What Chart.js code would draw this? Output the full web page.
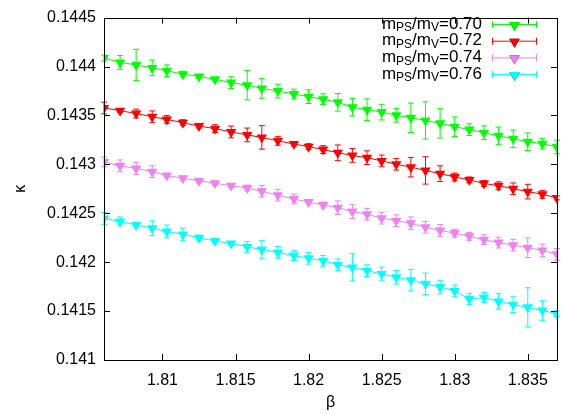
<!DOCTYPE html>
<html>
<head>
<meta charset="utf-8">
<script src="https://cdn.jsdelivr.net/npm/chart.js@4.4.1/dist/chart.umd.min.js"></script>
<style>
  html, body { margin: 0; padding: 0; background: #fff; }
  #wrap { width: 565px; height: 414px; }
</style>
</head>
<body>
<div id="wrap"><canvas id="chart"></canvas></div>
<script>
// beta values shared by all four mass ratios
const beta = [
  1.8060, 1.8071, 1.8082, 1.8093, 1.8103, 1.8114, 1.8125, 1.8136, 1.8147, 1.8158,
  1.8168, 1.8179, 1.8190, 1.8200, 1.8210, 1.8220, 1.8230, 1.8240, 1.8250, 1.8260,
  1.8270, 1.8280, 1.8290, 1.8300, 1.8310, 1.8320, 1.8330, 1.8340, 1.8350, 1.8360,
  1.8370,
];

// kappa_c and errors for each mPS/mV
const kappa070 = [
  0.144086, 0.144042, 0.144016, 0.143986, 0.143956, 0.143922, 0.143899, 0.143869, 0.143836, 0.143809,
  0.143776, 0.143749, 0.143719, 0.143692, 0.143666, 0.143634, 0.143584, 0.143559, 0.143534, 0.143502,
  0.143476, 0.143449, 0.143419, 0.143385, 0.143355, 0.143323, 0.143291, 0.143261, 0.143231, 0.143211,
  0.143178,
];
const err070 = [
  0.00003, 0.00007, 0.00016, 0.00008, 0.00006, 0.00003, 0.00002, 0.00002, 0.00006, 0.00015,
  0.00010, 0.00007, 0.00005, 0.00007, 0.000055, 0.00009, 0.00009, 0.00011, 0.00008, 0.00007,
  0.00015, 0.00019, 0.00015, 0.00010, 0.00006, 0.00007, 0.00009, 0.00009, 0.00009, 0.000055,
  0.00007,
];

const kappa072 = [
  0.143576, 0.143549, 0.143519, 0.143486, 0.143459, 0.143426, 0.143391, 0.143365, 0.143331, 0.143301,
  0.143275, 0.143241, 0.143208, 0.143181, 0.143151, 0.143118, 0.143091, 0.143068, 0.143035, 0.143001,
  0.142971, 0.142938, 0.142905, 0.142871, 0.142841, 0.142805, 0.142781, 0.142750, 0.142721, 0.142694,
  0.142657,
];
const err072 = [
  0.00006, 0.00002, 0.000045, 0.00006, 0.00004, 0.00003, 0.00002, 0.00004, 0.00006, 0.00007,
  0.00012, 0.000045, 0.00002, 0.00003, 0.00004, 0.00008, 0.00007, 0.00007, 0.00006, 0.00006,
  0.00010, 0.00014, 0.00008, 0.00004, 0.00003, 0.00003, 0.00004, 0.00006, 0.000075, 0.00004,
  0.00002,
];

const kappa074 = [
  0.143025, 0.142985, 0.142958, 0.142925, 0.142885, 0.142858, 0.142831, 0.142808, 0.142781, 0.142758,
  0.142725, 0.142684, 0.142647, 0.142614, 0.142584, 0.142557, 0.142517, 0.142490, 0.142450, 0.142424,
  0.142397, 0.142357, 0.142324, 0.142297, 0.142264, 0.142230, 0.142200, 0.142174, 0.142147, 0.142120,
  0.142080,
];
const err074 = [
  0.00005, 0.00006, 0.00006, 0.00006, 0.00002, 0.00002, 0.00002, 0.00002, 0.00002, 0.00003,
  0.00006, 0.00006, 0.00005, 0.00002, 0.00003, 0.00007, 0.00007, 0.00006, 0.00006, 0.00006,
  0.000065, 0.00006, 0.00006, 0.00004, 0.00004, 0.00005, 0.000055, 0.00006, 0.00010, 0.000065,
  0.00006,
];

const kappa076 = [
  0.142447, 0.142417, 0.142380, 0.142347, 0.142314, 0.142284, 0.142250, 0.142217, 0.142190, 0.142157,
  0.142130, 0.142100, 0.142067, 0.142040, 0.142014, 0.141973, 0.141946, 0.141913, 0.141879, 0.141846,
  0.141816, 0.141779, 0.141746, 0.141706, 0.141623, 0.141639, 0.141599, 0.141566, 0.141539, 0.141506,
  0.141473,
];
const err076 = [
  0.00006, 0.000045, 0.00002, 0.000075, 0.000065, 0.000065, 0.000025, 0.00002, 0.00002, 0.000055,
  0.00009, 0.00006, 0.00005, 0.00006, 0.000055, 0.00006, 0.00014, 0.00006, 0.00007, 0.00007,
  0.00011, 0.00011, 0.00007, 0.00006, 0.000055, 0.00005, 0.00008, 0.00008, 0.00020, 0.00010,
  0.00003,
];

const ratioNames = ['0.70', '0.72', '0.74', '0.76'];
const xTicks = [1.81, 1.815, 1.82, 1.825, 1.83, 1.835];
const xTickLabels = ['1.81', '1.815', '1.82', '1.825', '1.83', '1.835'];
const yTicks = [0.141, 0.1415, 0.142, 0.1425, 0.143, 0.1435, 0.144, 0.1445];
const yTickLabels = ['0.141', '0.1415', '0.142', '0.1425', '0.143', '0.1435', '0.144', '0.1445'];

const colors = ['#00ff00', '#ff0000', '#ee82ee', '#00ffff'];
const FONT = '"Liberation Sans", Arial, Helvetica, sans-serif';

function series(values, errors, i) {
  return {
    label: 'mPS/mV=' + ratioNames[i],
    data: beta.map((b, k) => ({x: b, y: values[k]})),
    errors: errors,
    showLine: true,
    borderColor: colors[i],
    backgroundColor: colors[i],
    borderWidth: 1,
    pointStyle: 'triangle',
    rotation: 180,
    pointRadius: 6,
    pointHoverRadius: 6,
    pointBorderWidth: 0,
  };
}

// vertical error bars with small caps
const errorBars = {
  id: 'errorBars',
  beforeDatasetsDraw(chart) {
    const ctx = chart.ctx;
    const xs = chart.scales.x, ys = chart.scales.y;
    ctx.save();
    ctx.lineWidth = 1;
    chart.data.datasets.forEach((ds) => {
      ctx.strokeStyle = ds.borderColor;
      ds.data.forEach((p, k) => {
        const e = ds.errors[k];
        const px = xs.getPixelForValue(p.x);
        const y1 = ys.getPixelForValue(p.y + e);
        const y2 = ys.getPixelForValue(p.y - e);
        ctx.beginPath();
        ctx.moveTo(px, y1); ctx.lineTo(px, y2);
        ctx.moveTo(px - 3, y1); ctx.lineTo(px + 3, y1);
        ctx.moveTo(px - 3, y2); ctx.lineTo(px + 3, y2);
        ctx.stroke();
      });
    });
    ctx.restore();
  },
};

// frame with inward ticks on all four sides
const frame = {
  id: 'frame',
  afterDraw(chart) {
    const ctx = chart.ctx;
    const a = chart.chartArea;
    const xs = chart.scales.x, ys = chart.scales.y;
    ctx.save();
    ctx.strokeStyle = '#000';
    ctx.lineWidth = 1;
    ctx.beginPath();
    xTicks.forEach((v) => {
      const px = Math.round(xs.getPixelForValue(v)) + 0.5;
      ctx.moveTo(px, a.bottom); ctx.lineTo(px, a.bottom - 6);
      ctx.moveTo(px, a.top); ctx.lineTo(px, a.top + 6);
    });
    yTicks.forEach((v) => {
      const py = Math.round(ys.getPixelForValue(v)) + 0.5;
      ctx.moveTo(a.left, py); ctx.lineTo(a.left + 6, py);
      ctx.moveTo(a.right, py); ctx.lineTo(a.right - 6, py);
    });
    ctx.stroke();
    ctx.strokeRect(Math.round(a.left) + 0.5, Math.round(a.top) + 0.5,
      Math.round(a.right - a.left), Math.round(a.bottom - a.top));
    ctx.restore();
  },
};

// key in the top right corner, text with subscripts
const key = {
  id: 'key',
  afterDraw(chart) {
    const ctx = chart.ctx;
    const big = '17px ' + FONT, small = '12px ' + FONT;
    ctx.save();
    chart.data.datasets.forEach((ds, i) => {
      const y = 24 + i * 16.7;
      const parts = [
        ['m', big, 0], ['PS', small, 4], ['/m', big, 0], ['V', small, 4], ['=' + ratioNames[i], big, 0],
      ];
      let w = 0;
      parts.forEach((p) => { ctx.font = p[1]; w += ctx.measureText(p[0]).width; });
      let x = 482 - w;
      ctx.fillStyle = '#000';
      ctx.textBaseline = 'middle';
      parts.forEach((p) => {
        ctx.font = p[1];
        ctx.fillText(p[0], x, y + p[2]);
        x += ctx.measureText(p[0]).width;
      });
      // sample: line with error caps and marker
      ctx.strokeStyle = ds.borderColor;
      ctx.lineWidth = 1;
      ctx.beginPath();
      ctx.moveTo(492, y + 0.5); ctx.lineTo(537, y + 0.5);
      ctx.moveTo(492.5, y - 3); ctx.lineTo(492.5, y + 4);
      ctx.moveTo(536.5, y - 3); ctx.lineTo(536.5, y + 4);
      ctx.stroke();
      Chart.helpers.drawPoint(ctx, {
        pointStyle: 'triangle', rotation: 180, radius: 6, borderWidth: 0,
      }, 514.5, y + 1);
      ctx.fillStyle = ds.backgroundColor;
      ctx.fill();
    });
    ctx.restore();
  },
};

new Chart(document.getElementById('chart'), {
  type: 'scatter',
  data: {
    datasets: [
      series(kappa070, err070, 0),
      series(kappa072, err072, 1),
      series(kappa074, err074, 2),
      series(kappa076, err076, 3),
    ],
  },
  options: {
    responsive: true,
    maintainAspectRatio: false,
    animation: false,
    events: [],
    layout: { padding: { top: 11, right: 8, left: 0, bottom: 0 } },
    plugins: {
      legend: { display: false },
      tooltip: { enabled: false },
    },
    scales: {
      x: {
        type: 'linear',
        min: 1.806,
        max: 1.837,
        afterFit(scale) { scale.height = 54; },
        afterBuildTicks(scale) { scale.ticks = xTicks.map((v) => ({value: v})); },
        grid: { drawOnChartArea: false, drawTicks: false },
        border: { display: false },
        ticks: {
          padding: 11,
          color: '#000',
          font: { family: FONT, size: 16 },
          maxRotation: 0,
          autoSkip: false,
          callback: (v) => xTickLabels[xTicks.indexOf(v)],
        },
        title: {
          display: true,
          text: 'β',
          color: '#000',
          font: { family: FONT, size: 16 },
          padding: { top: 0, bottom: 2 },
        },
      },
      y: {
        type: 'linear',
        min: 0.141,
        max: 0.1445,
        afterFit(scale) { scale.width = 104; },
        afterBuildTicks(scale) { scale.ticks = yTicks.map((v) => ({value: v})); },
        grid: { drawOnChartArea: false, drawTicks: false },
        border: { display: false },
        ticks: {
          padding: 8,
          color: '#000',
          font: { family: FONT, size: 16 },
          autoSkip: false,
          callback: (v) => yTickLabels[yTicks.indexOf(v)],
        },
        title: {
          display: true,
          text: 'κ',
          color: '#000',
          font: { family: FONT, size: 16 },
          padding: { top: 11, bottom: 0 },
        },
      },
    },
  },
  plugins: [errorBars, frame, key],
});
</script>
</body>
</html>
